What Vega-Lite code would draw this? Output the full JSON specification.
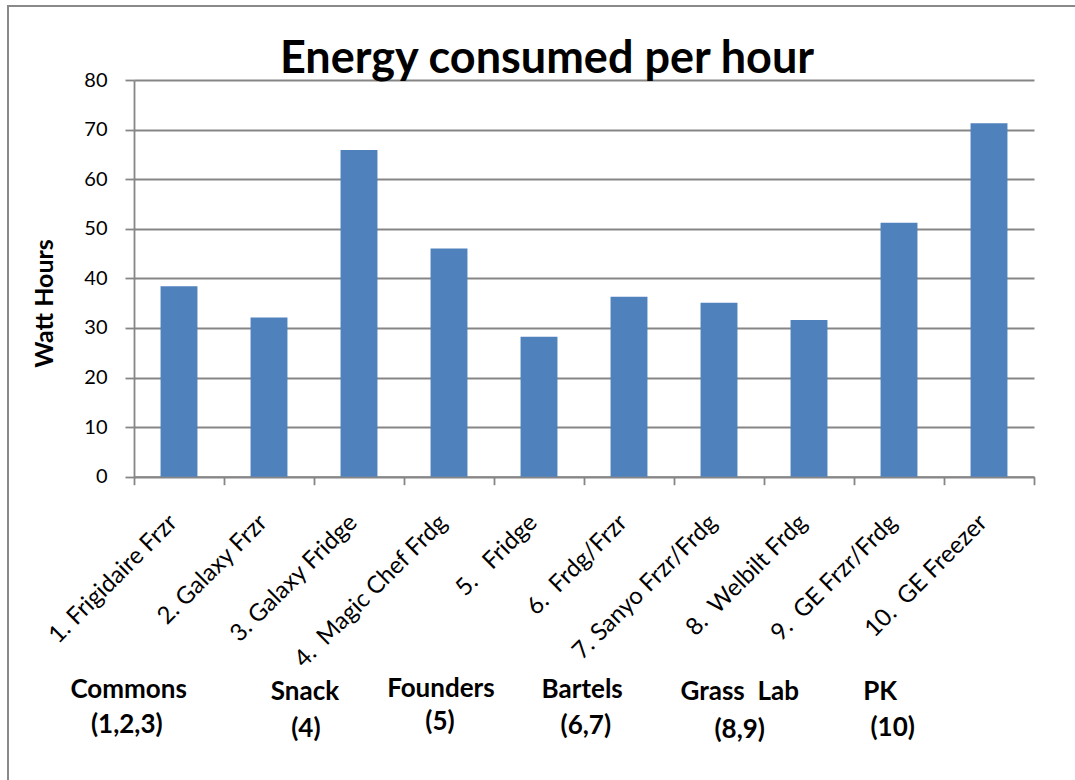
{
  "$schema": "https://vega.github.io/schema/vega-lite/v6.json",
  "width": 900,
  "height": 396.7,
  "autosize": "none",
  "padding": {"left": 134, "top": 80, "right": 41, "bottom": 303.3},
  "background": "white",
  "config": {"view": {"stroke": null}, "font": "Lato"},
  "title": {
    "text": "Energy consumed per hour",
    "font": "Lato",
    "fontSize": 45,
    "fontWeight": "bold",
    "color": "black",
    "anchor": "middle",
    "dx": -37,
    "offset": -113,
    "baseline": "alphabetic"
  },
  "datasets": {
    "units": [
      {"unit": "1. Frigidaire Frzr", "watt_hours": 38.4},
      {"unit": "2. Galaxy Frzr", "watt_hours": 32.1},
      {"unit": "3. Galaxy Fridge", "watt_hours": 65.9},
      {"unit": "4.\u00a0 Magic Chef Frdg", "watt_hours": 46.0},
      {"unit": "5.\u00a0\u00a0 Fridge", "watt_hours": 28.2},
      {"unit": "6.\u00a0 Frdg/Frzr", "watt_hours": 36.3},
      {"unit": "7. Sanyo Frzr/Frdg", "watt_hours": 35.1},
      {"unit": "8.\u00a0 Welbilt Frdg", "watt_hours": 31.6},
      {"unit": "9.\u00a0 GE Frzr/Frdg", "watt_hours": 51.2},
      {"unit": "10.\u00a0 GE Freezer", "watt_hours": 71.3}
    ],
    "sites": [
      {"label": "Commons", "slot": -0.06, "level": -43.1},
      {"label": "(1,2,3)", "slot": -0.08, "level": -50.1},
      {"label": "Snack", "slot": 1.9, "level": -43.4},
      {"label": "(4)", "slot": 1.91, "level": -50.9},
      {"label": "Founders", "slot": 3.41, "level": -42.8},
      {"label": "(5)", "slot": 3.4, "level": -49.4},
      {"label": "Bartels", "slot": 4.98, "level": -43.0},
      {"label": "(6,7)", "slot": 5.02, "level": -50.3},
      {"label": "Grass\u00a0 Lab", "slot": 6.73, "level": -43.4},
      {"label": "(8,9)", "slot": 6.73, "level": -51.1},
      {"label": "PK", "slot": 8.29, "level": -43.4},
      {"label": "(10)", "slot": 8.43, "level": -50.7}
    ]
  },
  "layer": [
    {
      "data": {"name": "units"},
      "mark": {"type": "bar", "color": "#4F81BD", "width": {"band": 0.41}},
      "encoding": {
        "x": {
          "field": "unit",
          "type": "nominal",
          "sort": null,
          "scale": {"paddingInner": 0, "paddingOuter": 0},
          "axis": {
            "title": null,
            "labelAngle": -45,
            "labelAlign": "right",
            "labelBaseline": "middle",
            "labelFont": "Lato",
            "labelFontSize": 24,
            "labelColor": "black",
            "labelPadding": 34,
            "labelOffset": -6,
            "labelLimit": 400,
            "labelOverlap": false,
            "tickBand": "extent",
            "tickSize": 8,
            "tickColor": "#868686",
            "tickWidth": 1.8,
            "domainColor": "#868686",
            "domainWidth": 1.8,
            "grid": false
          }
        },
        "y": {
          "field": "watt_hours",
          "type": "quantitative",
          "title": "Watt Hours",
          "scale": {"domain": [0, 80], "nice": false},
          "axis": {
            "values": [0, 10, 20, 30, 40, 50, 60, 70, 80],
            "titleFont": "Lato",
            "titleFontSize": 25,
            "titleFontWeight": "bold",
            "titleColor": "black",
            "titleAngle": -90,
            "titleAlign": "center",
            "titleBaseline": "middle",
            "titleX": -90,
            "titleY": 223,
            "labelFont": "Lato",
            "labelFontSize": 20,
            "labelColor": "black",
            "labelPadding": 18,
            "tickSize": 9,
            "tickColor": "#868686",
            "tickWidth": 1.8,
            "domainColor": "#868686",
            "domainWidth": 1.8,
            "grid": true,
            "gridColor": "#868686",
            "gridWidth": 1.8
          }
        }
      }
    },
    {
      "data": {"values": [{}]},
      "mark": {"type": "rect", "fill": "transparent", "stroke": "#898989", "strokeWidth": 2},
      "encoding": {
        "x": {"datum": -1.4, "type": "quantitative", "scale": {"domain": [0, 10], "nice": false, "zero": false}, "axis": null},
        "x2": {"datum": 10.8},
        "y": {"datum": 94.9, "type": "quantitative", "title": "Watt Hours"},
        "y2": {"datum": -70}
      }
    },
    {
      "data": {"name": "sites"},
      "mark": {"type": "text", "font": "Lato", "fontSize": 26, "fontWeight": "bold", "color": "black", "align": "center", "baseline": "middle"},
      "encoding": {
        "x": {"field": "slot", "type": "quantitative", "scale": {"domain": [0, 10], "nice": false, "zero": false}, "axis": null},
        "y": {"field": "level", "type": "quantitative", "title": "Watt Hours"},
        "text": {"field": "label"}
      }
    }
  ],
  "resolve": {"scale": {"x": "independent"}}
}
